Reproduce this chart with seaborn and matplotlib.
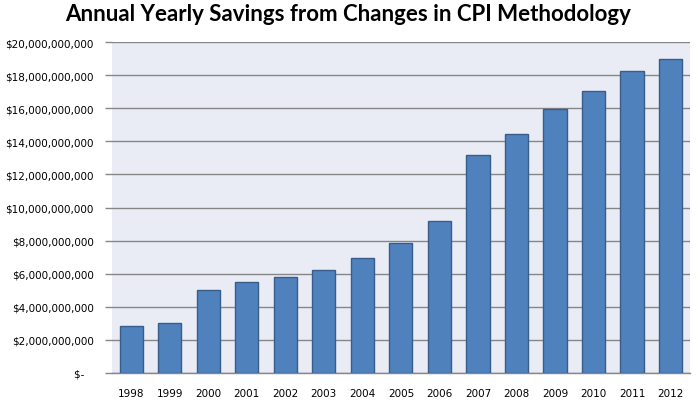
import numpy as np
import pandas as pd
import seaborn as sns
import matplotlib.pyplot as plt
import matplotlib.ticker as ticker

# Savings per year (dollars)
years = ['1998', '1999', '2000', '2001', '2002', '2003', '2004', '2005',
         '2006', '2007', '2008', '2009', '2010', '2011', '2012']
savings = [2.85e9, 3.05e9, 5.02e9, 5.50e9, 5.80e9, 6.22e9, 6.95e9, 7.85e9,
           9.18e9, 13.15e9, 14.43e9, 15.95e9, 17.03e9, 18.25e9, 18.97e9]
yticks = np.arange(0, 20e9 + 1, 2e9)

df = pd.DataFrame({'Year': years, 'Savings': savings})

sns.set_style('white')
plt.rcParams['font.family'] = ['DejaVu Sans']

fig = plt.figure(figsize=(6.97, 4.02), dpi=100)
ax = fig.add_axes([0.1607, 0.0697, 0.829, 0.823])
ax.set_facecolor('#E9ECF5')

sns.barplot(data=df, x='Year', y='Savings', ax=ax, color='#4F81BD',
            saturation=1, width=0.6, edgecolor='#385D8A', linewidth=1, zorder=3)

# Accounting style labels like the spreadsheet
def dollars(x, pos):
    if x == 0:
        return '$-   '
    return '${:,.0f}'.format(x)

ax.set_ylim(0, 20e9)
ax.set_yticks(yticks)
ax.yaxis.set_major_formatter(ticker.FuncFormatter(dollars))
ax.grid(axis='y', color='#868686', linewidth=1, zorder=0)
ax.set_axisbelow(True)

for side in ['top', 'right', 'left']:
    ax.spines[side].set_visible(False)
ax.spines['bottom'].set_color('#868686')
ax.spines['bottom'].set_linewidth(1)

ax.tick_params(axis='y', length=5, width=1, color='#868686', direction='out',
               labelsize=7.5, pad=8, left=True, labelcolor='black')
ax.tick_params(axis='x', length=0, labelsize=7.5, pad=11, labelcolor='black')
ax.set_xlabel('')
ax.set_ylabel('')

fig.suptitle('Annual Yearly Savings from Changes in CPI Methodology',
             fontsize=16, fontweight='bold', family=['Lato', 'DejaVu Sans'],
             color='black', x=0.5, y=0.99)

plt.savefig('out.png', dpi=100)
plt.close()
